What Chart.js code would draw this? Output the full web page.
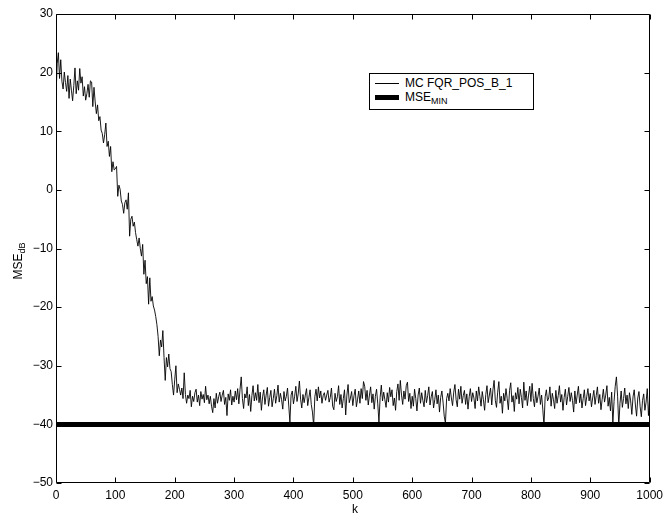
<!DOCTYPE html>
<html><head><meta charset="utf-8">
<script src="https://cdn.jsdelivr.net/npm/chart.js@4/dist/chart.umd.min.js"></script>
<style>
html,body{margin:0;padding:0;background:#fff;}
#wrap{position:relative;width:668px;height:517px;font-family:"Liberation Sans",Arial,Helvetica,sans-serif;color:#000;}
#c{position:absolute;left:0;top:0;}
#legend{position:absolute;left:369px;top:73px;width:163px;height:35px;border:1px solid #000;background:#fff;font-size:12px;}
#legend .row{position:absolute;left:0;height:14px;line-height:14px;white-space:nowrap;}
#legend .s1{position:absolute;left:5px;top:7px;width:24px;height:1px;background:#000;}
#legend .s2{position:absolute;left:5px;top:5px;width:24px;height:5px;background:#000;}
#legend .t{position:absolute;left:35px;top:0;}
sub{font-size:9px;vertical-align:-3px;line-height:0;}
#ylab{position:absolute;left:-12px;top:253px;width:60px;height:16px;line-height:16px;text-align:center;font-size:12px;transform:rotate(-90deg);transform-origin:50% 50%;white-space:nowrap;}
#xlab{position:absolute;left:345px;top:501px;width:20px;text-align:center;font-size:12px;line-height:16px;}
</style>
</head>
<body>
<div id="wrap">
<canvas id="c" width="668" height="517"></canvas>
<div id="legend">
  <div class="row" style="top:2px;width:160px;"><div class="s1"></div><span class="t">MC FQR_POS_B_1</span></div>
  <div class="row" style="top:16px;width:160px;"><div class="s2"></div><span class="t">MSE<sub>MIN</sub></span></div>
</div>
<div id="ylab">MSE<sub>dB</sub></div>
<div id="xlab">k</div>
</div>
<script>
// ---- data ----
const K_STEP = 2;            // sample spacing of the values below (k = 0, 2, 4, ... 1000)
const K_MIN = 0;
const K_MAX = 1000;
const MSE_MIN = -40;
const seriesLabels = ['MC FQR_POS_B_1', 'MSE_MIN'];
const xTicks = [0,100,200,300,400,500,600,700,800,900,1000];
const yTicks = [-50,-40,-30,-20,-10,0,10,20,30];

const mseMC = [
 16.0, 21.5, 23.4, 19.0, 22.2,   // 0
 18.5, 17.2, 20.1, 18.3, 16.8,   // 10
 19.5, 15.6, 18.9, 17.0, 15.2,   // 20
 17.8, 20.8, 16.4, 18.6, 17.0,   // 30
 20.7, 18.2, 19.3, 16.0, 17.6,   // 40
 15.3, 16.4, 18.0, 15.8, 18.6,   // 50
 18.4, 14.2, 17.5, 15.0, 13.0,   // 60
 14.5, 11.8, 12.5, 10.2, 9.6,    // 70
 8.0, 9.4, 11.4, 7.4, 8.3,       // 80
 5.7, 7.4, 3.1, 4.8, 3.4,        // 90
 3.6, 4.0, -1.1, 0.8, 0.1,       // 100
 -1.9, -2.5, -4.0, -2.2, -1.7,   // 110
 -3.3, -0.5, -7.9, -5.0, -4.5,   // 120
 -6.2, -5.5, -7.3, -8.5, -9.6,   // 130
 -8.2, -10.0, -11.3, -9.3, -14.4, // 140
 -12.0, -16.0, -14.8, -19.5, -15.0, // 150
 -19.0, -18.2, -19.8, -20.5, -21.6, // 160
 -23.0, -25.0, -28.3, -25.6, -26.8, // 170
 -24.0, -28.6, -32.5, -28.6, -30.2, // 180
 -28.0, -30.5, -31.0, -33.2, -35.0, // 190
 -32.4, -30.0, -34.6, -33.1, -34.0, // 200
 -35.0, -33.8, -35.6, -31.2, -34.9, // 210
 -36.4, -35.0, -35.6, -34.2, -37.0, // 220
 -35.2, -36.1, -34.6, -34.0, -36.2, // 230
 -35.0, -36.8, -34.4, -35.7, -34.9, // 240
 -36.3, -33.5, -35.8, -35.0, -36.5, // 250
 -35.2, -36.9, -38.0, -35.6, -37.2, // 260
 -34.7, -36.4, -35.3, -34.5, -36.1, // 270
 -35.0, -34.2, -36.6, -35.4, -38.5, // 280
 -34.8, -35.9, -34.1, -36.7, -35.2, // 290
 -36.2, -34.3, -35.8, -33.9, -36.5, // 300
 -34.0, -31.9, -35.6, -37.3, -34.8, // 310
 -35.5, -33.6, -36.8, -34.9, -37.8, // 320
 -35.1, -33.4, -36.0, -34.6, -35.9, // 330
 -33.2, -36.3, -34.5, -37.6, -35.3, // 340
 -34.1, -36.6, -35.0, -33.7, -36.9, // 350
 -35.4, -34.2, -37.0, -35.6, -34.0, // 360
 -36.4, -35.1, -33.3, -36.2, -34.7, // 370
 -35.8, -37.4, -34.4, -36.0, -35.2, // 380
 -33.8, -36.7, -39.6, -35.0, -34.3, // 390
 -36.5, -35.2, -33.5, -36.1, -34.8, // 400
 -32.6, -35.7, -37.2, -34.9, -36.3, // 410
 -35.0, -33.9, -36.8, -35.4, -34.1, // 420
 -36.6, -37.9, -40.2, -35.3, -34.0, // 430
 -36.0, -33.6, -35.5, -34.3, -36.4, // 440
 -35.1, -34.6, -35.9, -35.0, -34.2, // 450
 -36.2, -35.4, -33.8, -36.9, -37.5, // 460
 -34.7, -36.1, -35.3, -33.4, -36.6, // 470
 -34.9, -37.2, -35.6, -34.1, -38.4, // 480
 -35.0, -33.2, -36.3, -35.5, -34.4, // 490
 -36.8, -35.1, -34.0, -37.0, -35.7, // 500
 -34.3, -36.4, -33.9, -35.6, -32.7, // 510
 -33.5, -35.9, -34.2, -36.7, -35.0, // 520
 -33.6, -36.3, -34.8, -37.4, -35.2, // 530
 -34.0, -36.5, -39.6, -35.4, -33.3, // 540
 -36.0, -34.5, -35.8, -37.1, -34.6, // 550
 -36.2, -33.7, -35.3, -34.1, -36.8, // 560
 -35.5, -37.6, -34.4, -33.1, -35.9, // 570
 -32.5, -35.0, -36.6, -34.3, -35.7, // 580
 -33.4, -32.8, -36.1, -34.7, -37.3, // 590
 -35.2, -36.9, -34.0, -35.6, -37.7, // 600
 -35.0, -33.8, -36.4, -34.6, -35.9, // 610
 -37.0, -34.2, -36.3, -35.1, -33.6, // 620
 -36.7, -35.3, -34.4, -37.2, -35.8, // 630
 -34.1, -36.5, -35.0, -37.9, -35.4, // 640
 -34.3, -36.2, -38.6, -39.8, -35.6, // 650
 -34.7, -36.0, -33.9, -35.5, -36.8, // 660
 -34.5, -33.2, -35.8, -37.0, -34.0, // 670
 -35.7, -33.5, -36.4, -35.1, -34.2, // 680
 -36.6, -34.8, -37.4, -35.3, -33.9, // 690
 -36.1, -34.6, -35.5, -37.3, -34.3, // 700
 -36.0, -33.6, -35.2, -36.9, -34.4, // 710
 -35.8, -37.6, -34.9, -33.4, -36.3, // 720
 -35.0, -33.8, -36.7, -34.1, -32.5, // 730
 -35.9, -37.1, -34.5, -32.7, -36.4, // 740
 -35.2, -38.1, -34.7, -36.0, -33.9, // 750
 -35.6, -37.5, -34.2, -32.9, -36.2, // 760
 -35.1, -37.8, -34.6, -35.7, -33.7, // 770
 -36.5, -34.0, -35.4, -37.2, -32.8, // 780
 -35.9, -34.3, -36.8, -35.0, -33.5, // 790
 -36.1, -33.0, -35.6, -37.0, -34.4, // 800
 -36.3, -35.2, -33.8, -36.6, -35.0, // 810
 -37.4, -40.2, -35.3, -34.1, -36.0, // 820
 -35.5, -33.6, -36.9, -34.7, -35.8, // 830
 -37.3, -34.2, -36.4, -35.1, -33.4, // 840
 -36.2, -34.9, -37.6, -35.4, -34.0, // 850
 -36.7, -35.2, -33.7, -36.1, -34.6, // 860
 -35.9, -37.9, -34.3, -36.5, -35.0, // 870
 -33.5, -36.3, -34.8, -37.2, -35.6, // 880
 -34.1, -36.8, -35.3, -33.9, -36.0, // 890
 -34.7, -37.0, -35.5, -34.2, -36.6, // 900
 -35.1, -33.6, -36.4, -34.9, -37.5, // 910
 -35.7, -34.0, -36.2, -35.0, -33.4, // 920
 -36.9, -35.4, -37.7, -34.5, -39.9, // 930
 -36.1, -33.5, -31.9, -35.2, -40.3, // 940
 -36.4, -34.3, -37.1, -35.6, -33.8, // 950
 -36.5, -35.0, -37.3, -34.6, -36.0, // 960
 -38.3, -35.3, -34.1, -36.7, -38.6, // 970
 -35.5, -34.4, -37.0, -38.7, -35.9, // 980
 -34.8, -37.6, -36.2, -33.9, -38.5, // 990
 -35.6                              // 1000
];

// ---- build datasets ----
const mcPoints = mseMC.map((v, i) => ({ x: K_MIN + i * K_STEP, y: v }));
const minPoints = [{ x: K_MIN, y: MSE_MIN }, { x: K_MAX, y: MSE_MIN }];

const fmt = v => String(v).replace('-', '\u2212');

const framePlugin = {
  id: 'frame',
  afterDatasetsDraw(chart) {
    const { ctx, chartArea: a, scales: { x, y } } = chart;
    ctx.save();
    ctx.strokeStyle = '#000';
    ctx.lineWidth = 1;
    ctx.beginPath();
    const L = Math.round(a.left) + 0.5, R = Math.round(a.right) - 0.5;
    const T = Math.round(a.top) + 0.5, B = Math.round(a.bottom) - 0.5;
    ctx.rect(L, T, R - L, B - T);
    const tl = 5;
    xTicks.forEach(v => {
      const px = Math.round(x.getPixelForValue(v)) + 0.5;
      ctx.moveTo(px, B); ctx.lineTo(px, B - tl);
      ctx.moveTo(px, T); ctx.lineTo(px, T + tl);
    });
    yTicks.forEach(v => {
      const py = Math.round(y.getPixelForValue(v)) + 0.5;
      ctx.moveTo(L, py); ctx.lineTo(L + tl, py);
      ctx.moveTo(R, py); ctx.lineTo(R - tl, py);
    });
    ctx.stroke();
    ctx.restore();
  }
};

new Chart(document.getElementById('c'), {
  type: 'line',
  data: {
    datasets: [
      { label: seriesLabels[1], data: minPoints, borderColor: '#000', borderWidth: 5,
        pointRadius: 0, tension: 0, order: 0, borderCapStyle: 'butt' },
      { label: seriesLabels[0], data: mcPoints, borderColor: '#000', borderWidth: 0.9,
        pointRadius: 0, tension: 0, order: 1 }
    ]
  },
  options: {
    responsive: false,
    devicePixelRatio: 1,
    animation: false,
    layout: { padding: { top: 14, right: 15, left: 0, bottom: 0 } },
    plugins: { legend: { display: false }, tooltip: { enabled: false } },
    scales: {
      x: {
        type: 'linear', min: K_MIN, max: K_MAX,
        afterFit: s => { s.height = 34; },
        afterBuildTicks: s => { s.ticks = xTicks.map(v => ({ value: v })); },
        grid: { display: false, drawTicks: false },
        border: { display: false },
        ticks: { color: '#000', font: { family: 'Liberation Sans, Arial, sans-serif', size: 12 },
                 padding: 5, maxRotation: 0, autoSkip: false, callback: fmt }
      },
      y: {
        type: 'linear', min: yTicks[0], max: yTicks[yTicks.length - 1],
        afterFit: s => { s.width = 56; },
        afterBuildTicks: s => { s.ticks = yTicks.map(v => ({ value: v })); },
        grid: { display: false, drawTicks: false },
        border: { display: false },
        ticks: { color: '#000', font: { family: 'Liberation Sans, Arial, sans-serif', size: 12 },
                 padding: 3, autoSkip: false, callback: fmt }
      }
    }
  },
  plugins: [framePlugin]
});
</script>
</body></html>
